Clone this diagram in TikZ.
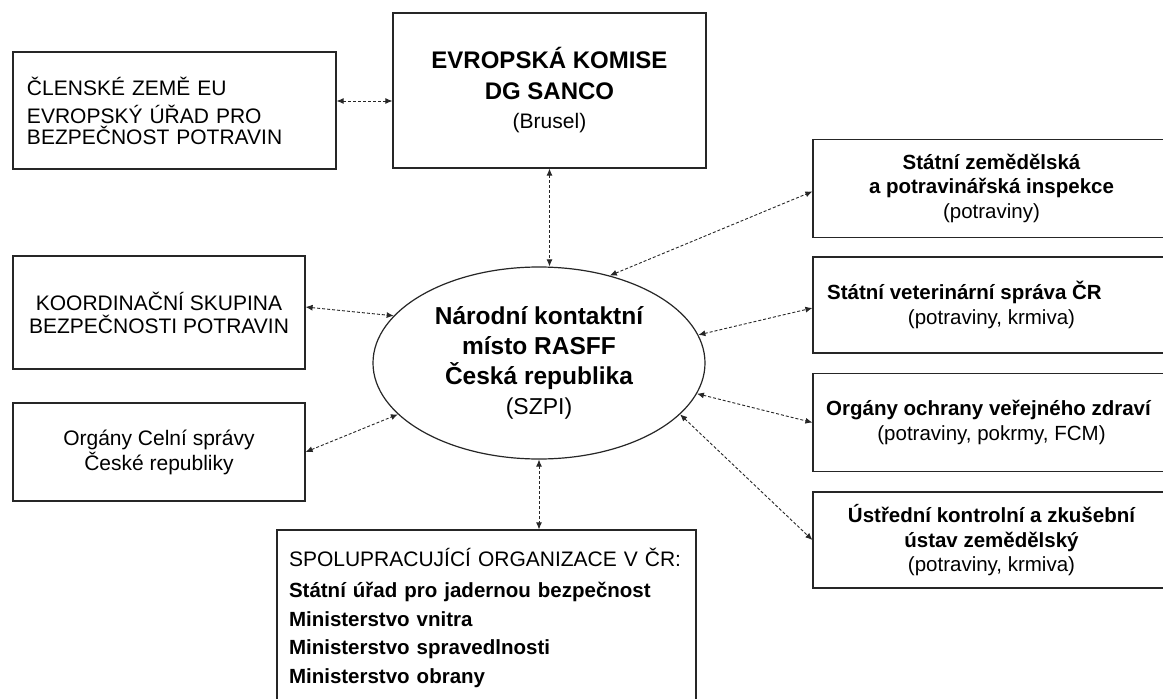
\documentclass[tikz,border=0pt]{standalone}
\usepackage{fontspec}
\setmainfont{Liberation Sans}
\usetikzlibrary{arrows.meta,shapes.geometric}
\begin{document}
\begin{tikzpicture}[x=1pt,y=-1pt,
  box/.style={draw=black!85,line width=1.2pt,rectangle,inner sep=0pt},
  rbox/.style={box,minimum width=357pt,align=center,font=\fontsize{20.5}{25}\selectfont\bfseries},
  link/.style={{Latex[length=7pt,width=6pt]}-{Latex[length=7pt,width=6pt]},dash pattern=on 3pt off 2pt,line width=0.9pt,draw=black!85}]
\useasboundingbox (0,0) rectangle (1163,699);
\clip (0,0) rectangle (1163,699);
\fill[white] (0,0) rectangle (1163,699);
% left / top boxes
\node[box,minimum width=323pt,minimum height=117pt,inner xsep=14pt,text width=295pt,align=left,
  font=\fontsize{21}{28}\selectfont] (clen) at (174.5,110.5)
  {ČLENSKÉ ZEMĚ EU\\EVROPSKÝ ÚŘAD PRO\\[-7pt]BEZPEČNOST POTRAVIN};
\node[box,minimum width=313pt,minimum height=155pt,align=center,
  font=\fontsize{24}{29}\selectfont\bfseries] (ek) at (549.5,90.5)
  {EVROPSKÁ KOMISE\\[2pt]DG SANCO\\{\fontsize{21}{29}\selectfont\mdseries (Brusel)}};
\node[draw=black!85,line width=1.2pt,ellipse,minimum width=332pt,minimum height=192pt,inner sep=0pt,align=center,
  font=\fontsize{24.5}{30}\selectfont\bfseries] (nkm) at (539,363)
  {Národní kontaktní\\místo RASFF\\Česká republika\\{\fontsize{23}{30}\selectfont\mdseries (SZPI)}};
\node[box,minimum width=292pt,minimum height=113pt,align=center,
  font=\fontsize{21}{23}\selectfont] (koord) at (159,312.5)
  {KOORDINAČNÍ SKUPINA\\BEZPEČNOSTI POTRAVIN};
\node[box,minimum width=292pt,minimum height=98pt,align=center,
  font=\fontsize{21}{25}\selectfont] (celni) at (159,452)
  {Orgány Celní správy\\České republiky};
\node[box,minimum width=419pt,minimum height=176pt,inner xsep=12pt,text width=395pt,align=left,
  font=\fontsize{21}{28.5}\selectfont] (bot) at (486.5,618)
  {SPOLUPRACUJÍCÍ ORGANIZACE V ČR:\\[2.5pt]\fontsize{20.5}{28.5}\selectfont\bfseries Státní úřad pro jadernou bezpečnost\\Ministerstvo vnitra\\Ministerstvo spravedlnosti\\Ministerstvo obrany};
% right boxes
\node[rbox,minimum height=98pt] (szpi) at (991.5,188.5)
  {Státní zemědělská\\[-1pt]a potravinářská inspekce\\{\mdseries (potraviny)}};
\node[rbox,minimum height=96pt] (svs) at (991.5,305)
  {Státní veterinární správa ČR\hspace*{54pt}\null\\{\mdseries (potraviny, krmiva)}};
\node[rbox,minimum height=98pt] (oovz) at (991.5,422.5)
  {Orgány ochrany veřejného zdraví\hspace*{6pt}\null\\{\mdseries (potraviny, pokrmy, FCM)}};
\node[rbox,minimum height=96pt] (ukz) at (991.5,540)
  {Ústřední kontrolní a zkušební\\ústav zemědělský\\[-1pt]{\mdseries (potraviny, krmiva)}};
% connectors
\draw[link] ([yshift=9.5pt]clen.east) -- ([yshift=-10.5pt]ek.west);
\draw[link] (ek.south) -- (ek.south |- nkm.north);
\draw[link] ([yshift=5.5pt]koord.east) -- (nkm.162);
\draw[link] (celni.east) -- (nkm.200);
\draw[link] (nkm.south) -- (nkm.south |- bot.north);
\draw[link] (nkm.51) -- ([yshift=-3pt]szpi.west);
\draw[link] (nkm.10) -- ([yshift=-3pt]svs.west);
\draw[link] (nkm.-11) -- (oovz.west);
\draw[link] (nkm.-20) -- (ukz.west);
\end{tikzpicture}
\end{document}
